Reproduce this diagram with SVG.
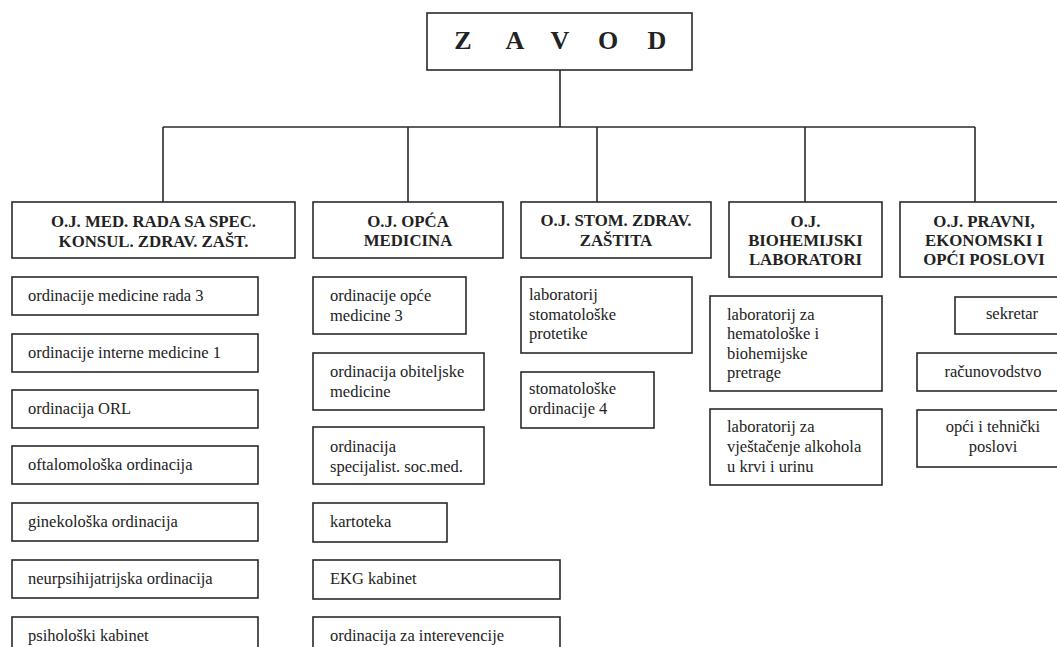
<svg xmlns="http://www.w3.org/2000/svg" width="1057" height="647" viewBox="0 0 1057 647">
<style>
rect{fill:#fff;stroke:#2a2a2a;stroke-width:1.6}
.c line{stroke:#2a2a2a;stroke-width:1.6}
text{font-family:'Liberation Serif','Times New Roman',serif;fill:#222}
.h{font-size:16.8px;font-weight:bold;text-anchor:middle}
.t{font-size:16.5px}
.m{text-anchor:middle}
.z{font-size:26px;font-weight:bold;text-anchor:middle}
</style>
<rect x="0" y="0" width="1057" height="647" style="stroke:none"/>
<g class="c" id="connectors">
<line x1="560" y1="70" x2="560" y2="127"/>
<line x1="163" y1="127" x2="975" y2="127"/>
<line x1="163" y1="127" x2="163" y2="202"/>
<line x1="408" y1="127" x2="408" y2="202"/>
<line x1="597" y1="127" x2="597" y2="202"/>
<line x1="805" y1="127" x2="805" y2="202"/>
<line x1="975" y1="127" x2="975" y2="202"/>
</g>
<g id="zavod"><rect x="427" y="13" width="265" height="57"/>
<text class="z" y="49"><tspan x="463">Z</tspan><tspan x="515">A</tspan><tspan x="560">V</tspan><tspan x="608">O</tspan><tspan x="657">D</tspan></text></g>

<g id="h1"><rect x="12" y="202" width="283" height="56"/><text class="h" x="153.5" y="227">O.J. MED. RADA SA SPEC.</text><text class="h" x="153.5" y="247">KONSUL. ZDRAV. ZAŠT.</text></g>
<g id="h2"><rect x="313" y="202" width="190" height="56"/><text class="h" x="408" y="227">O.J. OPĆA</text><text class="h" x="408" y="246">MEDICINA</text></g>
<g id="h3"><rect x="521" y="202" width="190" height="56"/><text class="h" x="616" y="226">O.J. STOM. ZDRAV.</text><text class="h" x="616" y="246">ZAŠTITA</text></g>
<g id="h4"><rect x="729" y="202" width="153" height="75"/><text class="h" x="805.5" y="227">O.J.</text><text class="h" x="805.5" y="246">BIOHEMIJSKI</text><text class="h" x="805.5" y="265">LABORATORI</text></g>
<g id="h5"><rect x="900" y="202" width="170" height="75"/><text class="h" x="984" y="227">O.J. PRAVNI,</text><text class="h" x="984" y="246">EKONOMSKI I</text><text class="h" x="984" y="265">OPĆI POSLOVI</text></g>

<g id="c1a"><rect x="12" y="277" width="246" height="38"/><text class="t" x="28" y="301">ordinacije medicine rada 3</text></g>
<g id="c1b"><rect x="12" y="334" width="246" height="38"/><text class="t" x="28" y="358">ordinacije interne medicine 1</text></g>
<g id="c1c"><rect x="12" y="390" width="246" height="38"/><text class="t" x="28" y="414">ordinacija ORL</text></g>
<g id="c1d"><rect x="12" y="446" width="246" height="38"/><text class="t" x="28" y="470">oftalomološka ordinacija</text></g>
<g id="c1e"><rect x="12" y="503" width="246" height="38"/><text class="t" x="28" y="527">ginekološka ordinacija</text></g>
<g id="c1f"><rect x="12" y="560" width="246" height="38"/><text class="t" x="28" y="584">neurpsihijatrijska ordinacija</text></g>
<g id="c1g"><rect x="12" y="617" width="246" height="40"/><text class="t" x="28" y="641">psihološki kabinet</text></g>

<g id="c2a"><rect x="313" y="277" width="153" height="57"/><text class="t" x="330" y="301">ordinacije opće</text><text class="t" x="330" y="321">medicine 3</text></g>
<g id="c2b"><rect x="313" y="353" width="171" height="57"/><text class="t" x="330" y="377">ordinacija obiteljske</text><text class="t" x="330" y="397">medicine</text></g>
<g id="c2c"><rect x="313" y="427" width="171" height="57"/><text class="t" x="330" y="452">ordinacija</text><text class="t" x="330" y="472">specijalist. soc.med.</text></g>
<g id="c2d"><rect x="313" y="503" width="134" height="39"/><text class="t" x="330" y="527">kartoteka</text></g>
<g id="c2e"><rect x="313" y="560" width="247" height="39"/><text class="t" x="330" y="584">EKG kabinet</text></g>
<g id="c2f"><rect x="313" y="617" width="247" height="40"/><text class="t" x="330" y="641">ordinacija za interevencije</text></g>

<g id="c3a"><rect x="521" y="277" width="171" height="76"/><text class="t" x="529" y="300">laboratorij</text><text class="t" x="529" y="320">stomatološke</text><text class="t" x="529" y="339">protetike</text></g>
<g id="c3b"><rect x="521" y="372" width="133" height="56"/><text class="t" x="529" y="394">stomatološke</text><text class="t" x="529" y="414">ordinacije 4</text></g>

<g id="c4a"><rect x="710" y="296" width="172" height="95"/><text class="t" x="727" y="320">laboratorij za</text><text class="t" x="727" y="339">hematološke i</text><text class="t" x="727" y="359">biohemijske</text><text class="t" x="727" y="378">pretrage</text></g>
<g id="c4b"><rect x="710" y="409" width="172" height="76"/><text class="t" x="727" y="432">laboratorij za</text><text class="t" x="727" y="452">vještačenje alkohola</text><text class="t" x="727" y="472">u krvi i urinu</text></g>

<g id="c5a"><rect x="955" y="297" width="115" height="37"/><text class="t m" x="1012" y="319">sekretar</text></g>
<g id="c5b"><rect x="917" y="353" width="153" height="38"/><text class="t m" x="993" y="377">računovodstvo</text></g>
<g id="c5c"><rect x="917" y="410" width="153" height="57"/><text class="t m" x="993" y="432">opći i tehnički</text><text class="t m" x="993" y="452">poslovi</text></g>
</svg>
